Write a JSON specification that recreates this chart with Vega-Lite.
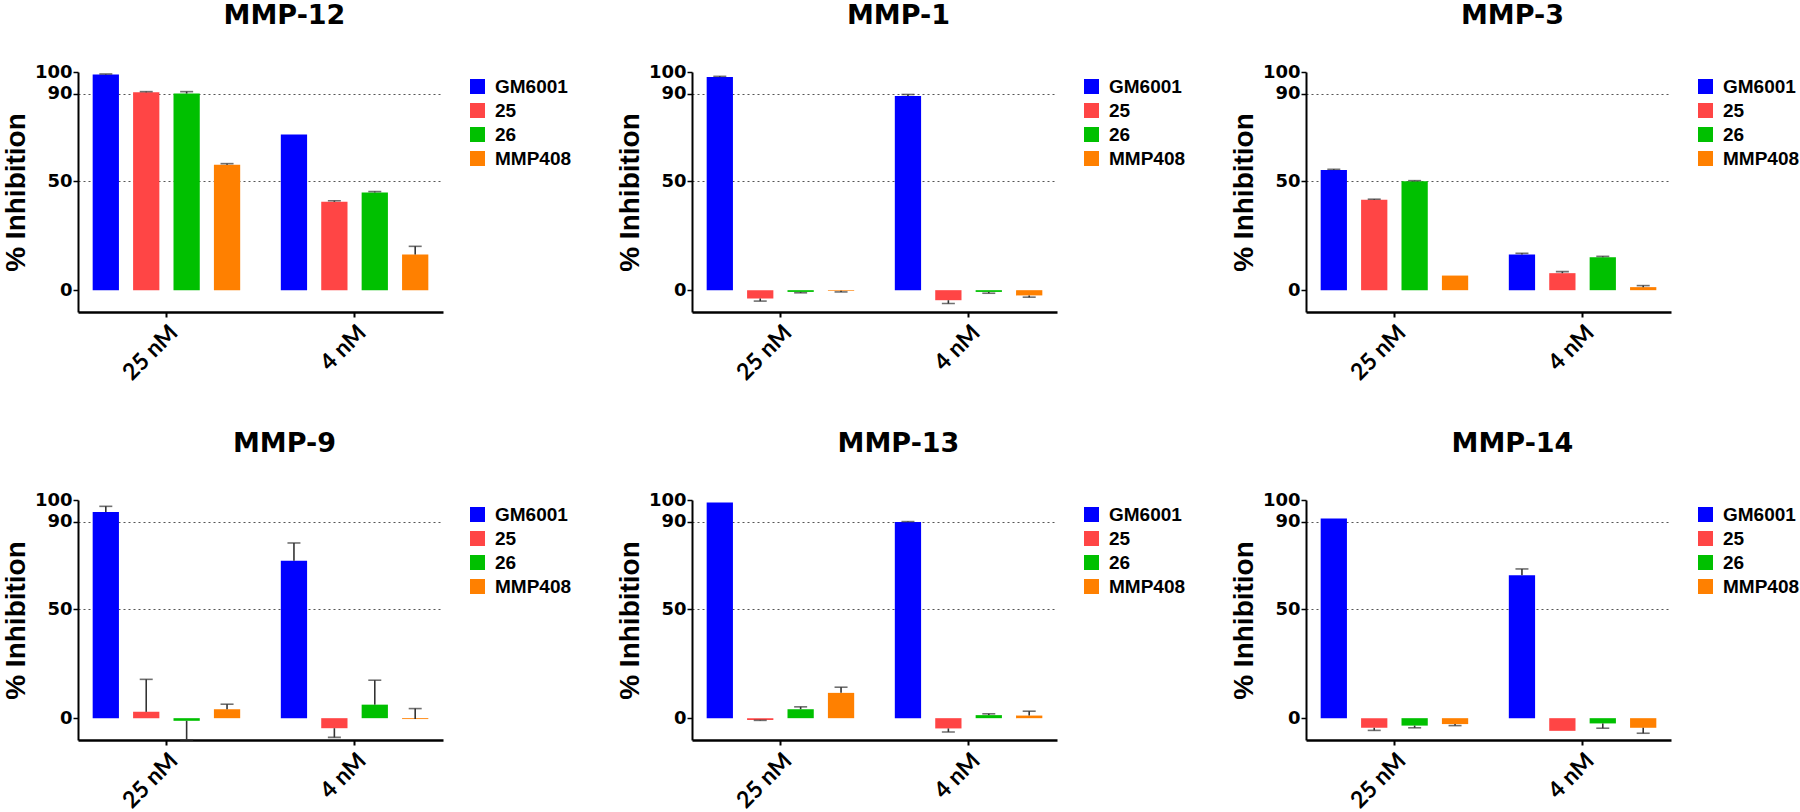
{
  "$schema": "https://vega.github.io/schema/vega-lite/v6.json",
  "padding": {"left": 2, "top": 2, "right": 0, "bottom": 2},
  "background": "white",
  "datasets": {
    "d": [
      {"panel": "MMP-12", "conc": "25 nM", "compound": "GM6001", "value": 98.8, "tip": 99.1},
      {"panel": "MMP-12", "conc": "25 nM", "compound": "25", "value": 90.7, "tip": 91.0},
      {"panel": "MMP-12", "conc": "25 nM", "compound": "26", "value": 90.1, "tip": 91.0},
      {"panel": "MMP-12", "conc": "25 nM", "compound": "MMP408", "value": 57.5, "tip": 58.0},
      {"panel": "MMP-12", "conc": "4 nM", "compound": "GM6001", "value": 71.3, "tip": null},
      {"panel": "MMP-12", "conc": "4 nM", "compound": "25", "value": 40.5, "tip": 41.0},
      {"panel": "MMP-12", "conc": "4 nM", "compound": "26", "value": 44.8, "tip": 45.2},
      {"panel": "MMP-12", "conc": "4 nM", "compound": "MMP408", "value": 16.3, "tip": 20.1},

      {"panel": "MMP-1", "conc": "25 nM", "compound": "GM6001", "value": 97.7, "tip": 98.0},
      {"panel": "MMP-1", "conc": "25 nM", "compound": "25", "value": -3.8, "tip": -5.0},
      {"panel": "MMP-1", "conc": "25 nM", "compound": "26", "value": -0.8, "tip": -1.2},
      {"panel": "MMP-1", "conc": "25 nM", "compound": "MMP408", "value": -0.3, "tip": -0.8},
      {"panel": "MMP-1", "conc": "4 nM", "compound": "GM6001", "value": 89.0, "tip": 89.7},
      {"panel": "MMP-1", "conc": "4 nM", "compound": "25", "value": -4.6, "tip": -6.1},
      {"panel": "MMP-1", "conc": "4 nM", "compound": "26", "value": -0.8, "tip": -1.4},
      {"panel": "MMP-1", "conc": "4 nM", "compound": "MMP408", "value": -2.4, "tip": -3.2},

      {"panel": "MMP-3", "conc": "25 nM", "compound": "GM6001", "value": 55.1, "tip": 55.4},
      {"panel": "MMP-3", "conc": "25 nM", "compound": "25", "value": 41.4, "tip": 41.7},
      {"panel": "MMP-3", "conc": "25 nM", "compound": "26", "value": 49.9, "tip": 50.2},
      {"panel": "MMP-3", "conc": "25 nM", "compound": "MMP408", "value": 6.7, "tip": null},
      {"panel": "MMP-3", "conc": "4 nM", "compound": "GM6001", "value": 16.3, "tip": 16.9},
      {"panel": "MMP-3", "conc": "4 nM", "compound": "25", "value": 7.8, "tip": 8.5},
      {"panel": "MMP-3", "conc": "4 nM", "compound": "26", "value": 15.1, "tip": 15.5},
      {"panel": "MMP-3", "conc": "4 nM", "compound": "MMP408", "value": 1.4, "tip": 2.1},

      {"panel": "MMP-9", "conc": "25 nM", "compound": "GM6001", "value": 94.5, "tip": 97.1},
      {"panel": "MMP-9", "conc": "25 nM", "compound": "25", "value": 2.9, "tip": 17.8},
      {"panel": "MMP-9", "conc": "25 nM", "compound": "26", "value": -1.2, "tip": -10.0},
      {"panel": "MMP-9", "conc": "25 nM", "compound": "MMP408", "value": 4.1, "tip": 6.4},
      {"panel": "MMP-9", "conc": "4 nM", "compound": "GM6001", "value": 72.1, "tip": 80.3},
      {"panel": "MMP-9", "conc": "4 nM", "compound": "25", "value": -4.6, "tip": -8.8},
      {"panel": "MMP-9", "conc": "4 nM", "compound": "26", "value": 6.2, "tip": 17.4},
      {"panel": "MMP-9", "conc": "4 nM", "compound": "MMP408", "value": -0.4, "tip": 4.4},

      {"panel": "MMP-13", "conc": "25 nM", "compound": "GM6001", "value": 98.8, "tip": null},
      {"panel": "MMP-13", "conc": "25 nM", "compound": "25", "value": -0.8, "tip": -1.0},
      {"panel": "MMP-13", "conc": "25 nM", "compound": "26", "value": 4.1, "tip": 5.2},
      {"panel": "MMP-13", "conc": "25 nM", "compound": "MMP408", "value": 11.6, "tip": 14.2},
      {"panel": "MMP-13", "conc": "4 nM", "compound": "GM6001", "value": 89.9, "tip": 90.1},
      {"panel": "MMP-13", "conc": "4 nM", "compound": "25", "value": -4.7, "tip": -6.3},
      {"panel": "MMP-13", "conc": "4 nM", "compound": "26", "value": 1.4, "tip": 2.0},
      {"panel": "MMP-13", "conc": "4 nM", "compound": "MMP408", "value": 1.2, "tip": 3.2},

      {"panel": "MMP-14", "conc": "25 nM", "compound": "GM6001", "value": 91.5, "tip": null},
      {"panel": "MMP-14", "conc": "25 nM", "compound": "25", "value": -4.4, "tip": -5.6},
      {"panel": "MMP-14", "conc": "25 nM", "compound": "26", "value": -3.4, "tip": -4.4},
      {"panel": "MMP-14", "conc": "25 nM", "compound": "MMP408", "value": -2.7, "tip": -3.4},
      {"panel": "MMP-14", "conc": "4 nM", "compound": "GM6001", "value": 65.5, "tip": 68.4},
      {"panel": "MMP-14", "conc": "4 nM", "compound": "25", "value": -5.8, "tip": null},
      {"panel": "MMP-14", "conc": "4 nM", "compound": "26", "value": -2.4, "tip": -4.6},
      {"panel": "MMP-14", "conc": "4 nM", "compound": "MMP408", "value": -4.4, "tip": -6.9}
    ]
  },
  "data": {"name": "d"},
  "columns": 3,
  "bounds": "flush",
  "spacing": {"row": 188, "column": 249},
  "resolve": {
    "scale": {"x": "independent", "xOffset": "independent", "y": "independent", "color": "independent"},
    "axis": {"x": "independent", "y": "independent"},
    "legend": {"color": "independent"}
  },
  "concat": [
    {
      "title": {"text": "MMP-12", "dx": 24},
      "width": 365, "height": 240,
      "transform": [{"filter": "datum.panel == 'MMP-12'"}],
      "encoding": {
        "x": {"field": "conc", "type": "nominal", "sort": ["25 nM", "4 nM"], "scale": {"paddingInner": 0.216, "paddingOuter": 0.078}, "axis": {"title": null}},
        "xOffset": {"field": "compound", "type": "nominal", "sort": ["GM6001", "25", "26", "MMP408"], "scale": {"paddingInner": 0.35, "paddingOuter": 0}}
      },
      "layer": [
        {"mark": {"type": "bar"}, "encoding": {"y": {"field": "value", "type": "quantitative", "scale": {"domain": [-10, 100], "nice": false}, "axis": {"title": "% Inhibition", "values": [0, 50, 90, 100], "grid": true, "gridOpacity": {"condition": {"test": "datum.value == 50 || datum.value == 90", "value": 1}, "value": 0}}}, "color": {"field": "compound", "type": "nominal", "sort": ["GM6001", "25", "26", "MMP408"], "scale": {"domain": ["GM6001", "25", "26", "MMP408"], "range": ["#0000FF", "#FF4545", "#00C000", "#FF8000"]}, "legend": {"title": null}}}},
        {"mark": {"type": "rule", "color": "#333333", "strokeWidth": 1.6}, "encoding": {"y": {"field": "value", "type": "quantitative"}, "y2": {"field": "tip"}}},
        {"mark": {"type": "tick", "color": "#333333", "thickness": 1.6, "size": 13}, "encoding": {"y": {"field": "tip", "type": "quantitative"}}},
        {"mark": {"type": "rule", "color": "black", "strokeWidth": 2}, "encoding": {"y": {"datum": 0, "type": "quantitative"}}}
      ]
    },
    {
      "title": {"text": "MMP-1", "dx": 24},
      "width": 365, "height": 240,
      "transform": [{"filter": "datum.panel == 'MMP-1'"}],
      "encoding": {
        "x": {"field": "conc", "type": "nominal", "sort": ["25 nM", "4 nM"], "scale": {"paddingInner": 0.216, "paddingOuter": 0.078}, "axis": {"title": null}},
        "xOffset": {"field": "compound", "type": "nominal", "sort": ["GM6001", "25", "26", "MMP408"], "scale": {"paddingInner": 0.35, "paddingOuter": 0}}
      },
      "layer": [
        {"mark": {"type": "bar"}, "encoding": {"y": {"field": "value", "type": "quantitative", "scale": {"domain": [-10, 100], "nice": false}, "axis": {"title": "% Inhibition", "values": [0, 50, 90, 100], "grid": true, "gridOpacity": {"condition": {"test": "datum.value == 50 || datum.value == 90", "value": 1}, "value": 0}}}, "color": {"field": "compound", "type": "nominal", "sort": ["GM6001", "25", "26", "MMP408"], "scale": {"domain": ["GM6001", "25", "26", "MMP408"], "range": ["#0000FF", "#FF4545", "#00C000", "#FF8000"]}, "legend": {"title": null}}}},
        {"mark": {"type": "rule", "color": "#333333", "strokeWidth": 1.6}, "encoding": {"y": {"field": "value", "type": "quantitative"}, "y2": {"field": "tip"}}},
        {"mark": {"type": "tick", "color": "#333333", "thickness": 1.6, "size": 13}, "encoding": {"y": {"field": "tip", "type": "quantitative"}}},
        {"mark": {"type": "rule", "color": "black", "strokeWidth": 2}, "encoding": {"y": {"datum": 0, "type": "quantitative"}}}
      ]
    },
    {
      "title": {"text": "MMP-3", "dx": 24},
      "width": 365, "height": 240,
      "transform": [{"filter": "datum.panel == 'MMP-3'"}],
      "encoding": {
        "x": {"field": "conc", "type": "nominal", "sort": ["25 nM", "4 nM"], "scale": {"paddingInner": 0.216, "paddingOuter": 0.078}, "axis": {"title": null}},
        "xOffset": {"field": "compound", "type": "nominal", "sort": ["GM6001", "25", "26", "MMP408"], "scale": {"paddingInner": 0.35, "paddingOuter": 0}}
      },
      "layer": [
        {"mark": {"type": "bar"}, "encoding": {"y": {"field": "value", "type": "quantitative", "scale": {"domain": [-10, 100], "nice": false}, "axis": {"title": "% Inhibition", "values": [0, 50, 90, 100], "grid": true, "gridOpacity": {"condition": {"test": "datum.value == 50 || datum.value == 90", "value": 1}, "value": 0}}}, "color": {"field": "compound", "type": "nominal", "sort": ["GM6001", "25", "26", "MMP408"], "scale": {"domain": ["GM6001", "25", "26", "MMP408"], "range": ["#0000FF", "#FF4545", "#00C000", "#FF8000"]}, "legend": {"title": null}}}},
        {"mark": {"type": "rule", "color": "#333333", "strokeWidth": 1.6}, "encoding": {"y": {"field": "value", "type": "quantitative"}, "y2": {"field": "tip"}}},
        {"mark": {"type": "tick", "color": "#333333", "thickness": 1.6, "size": 13}, "encoding": {"y": {"field": "tip", "type": "quantitative"}}},
        {"mark": {"type": "rule", "color": "black", "strokeWidth": 2}, "encoding": {"y": {"datum": 0, "type": "quantitative"}}}
      ]
    },
    {
      "title": {"text": "MMP-9", "dx": 24},
      "width": 365, "height": 240,
      "transform": [{"filter": "datum.panel == 'MMP-9'"}],
      "encoding": {
        "x": {"field": "conc", "type": "nominal", "sort": ["25 nM", "4 nM"], "scale": {"paddingInner": 0.216, "paddingOuter": 0.078}, "axis": {"title": null}},
        "xOffset": {"field": "compound", "type": "nominal", "sort": ["GM6001", "25", "26", "MMP408"], "scale": {"paddingInner": 0.35, "paddingOuter": 0}}
      },
      "layer": [
        {"mark": {"type": "bar"}, "encoding": {"y": {"field": "value", "type": "quantitative", "scale": {"domain": [-10, 100], "nice": false}, "axis": {"title": "% Inhibition", "values": [0, 50, 90, 100], "grid": true, "gridOpacity": {"condition": {"test": "datum.value == 50 || datum.value == 90", "value": 1}, "value": 0}}}, "color": {"field": "compound", "type": "nominal", "sort": ["GM6001", "25", "26", "MMP408"], "scale": {"domain": ["GM6001", "25", "26", "MMP408"], "range": ["#0000FF", "#FF4545", "#00C000", "#FF8000"]}, "legend": {"title": null}}}},
        {"mark": {"type": "rule", "color": "#333333", "strokeWidth": 1.6}, "encoding": {"y": {"field": "value", "type": "quantitative"}, "y2": {"field": "tip"}}},
        {"mark": {"type": "tick", "color": "#333333", "thickness": 1.6, "size": 13}, "encoding": {"y": {"field": "tip", "type": "quantitative"}}},
        {"mark": {"type": "rule", "color": "black", "strokeWidth": 2}, "encoding": {"y": {"datum": 0, "type": "quantitative"}}}
      ]
    },
    {
      "title": {"text": "MMP-13", "dx": 24},
      "width": 365, "height": 240,
      "transform": [{"filter": "datum.panel == 'MMP-13'"}],
      "encoding": {
        "x": {"field": "conc", "type": "nominal", "sort": ["25 nM", "4 nM"], "scale": {"paddingInner": 0.216, "paddingOuter": 0.078}, "axis": {"title": null}},
        "xOffset": {"field": "compound", "type": "nominal", "sort": ["GM6001", "25", "26", "MMP408"], "scale": {"paddingInner": 0.35, "paddingOuter": 0}}
      },
      "layer": [
        {"mark": {"type": "bar"}, "encoding": {"y": {"field": "value", "type": "quantitative", "scale": {"domain": [-10, 100], "nice": false}, "axis": {"title": "% Inhibition", "values": [0, 50, 90, 100], "grid": true, "gridOpacity": {"condition": {"test": "datum.value == 50 || datum.value == 90", "value": 1}, "value": 0}}}, "color": {"field": "compound", "type": "nominal", "sort": ["GM6001", "25", "26", "MMP408"], "scale": {"domain": ["GM6001", "25", "26", "MMP408"], "range": ["#0000FF", "#FF4545", "#00C000", "#FF8000"]}, "legend": {"title": null}}}},
        {"mark": {"type": "rule", "color": "#333333", "strokeWidth": 1.6}, "encoding": {"y": {"field": "value", "type": "quantitative"}, "y2": {"field": "tip"}}},
        {"mark": {"type": "tick", "color": "#333333", "thickness": 1.6, "size": 13}, "encoding": {"y": {"field": "tip", "type": "quantitative"}}},
        {"mark": {"type": "rule", "color": "black", "strokeWidth": 2}, "encoding": {"y": {"datum": 0, "type": "quantitative"}}}
      ]
    },
    {
      "title": {"text": "MMP-14", "dx": 24},
      "width": 365, "height": 240,
      "transform": [{"filter": "datum.panel == 'MMP-14'"}],
      "encoding": {
        "x": {"field": "conc", "type": "nominal", "sort": ["25 nM", "4 nM"], "scale": {"paddingInner": 0.216, "paddingOuter": 0.078}, "axis": {"title": null}},
        "xOffset": {"field": "compound", "type": "nominal", "sort": ["GM6001", "25", "26", "MMP408"], "scale": {"paddingInner": 0.35, "paddingOuter": 0}}
      },
      "layer": [
        {"mark": {"type": "bar"}, "encoding": {"y": {"field": "value", "type": "quantitative", "scale": {"domain": [-10, 100], "nice": false}, "axis": {"title": "% Inhibition", "values": [0, 50, 90, 100], "grid": true, "gridOpacity": {"condition": {"test": "datum.value == 50 || datum.value == 90", "value": 1}, "value": 0}}}, "color": {"field": "compound", "type": "nominal", "sort": ["GM6001", "25", "26", "MMP408"], "scale": {"domain": ["GM6001", "25", "26", "MMP408"], "range": ["#0000FF", "#FF4545", "#00C000", "#FF8000"]}, "legend": {"title": null}}}},
        {"mark": {"type": "rule", "color": "#333333", "strokeWidth": 1.6}, "encoding": {"y": {"field": "value", "type": "quantitative"}, "y2": {"field": "tip"}}},
        {"mark": {"type": "tick", "color": "#333333", "thickness": 1.6, "size": 13}, "encoding": {"y": {"field": "tip", "type": "quantitative"}}},
        {"mark": {"type": "rule", "color": "black", "strokeWidth": 2}, "encoding": {"y": {"datum": 0, "type": "quantitative"}}}
      ]
    }
  ],
  "config": {
    "view": {"stroke": null},
    "title": {"font": "DejaVu Sans", "fontSize": 27, "fontWeight": "bold", "color": "black", "offset": 33, "anchor": "middle"},
    "axisX": {
      "domainColor": "black", "domainWidth": 2.5, "tickColor": "black", "tickWidth": 2, "tickSize": 5,
      "labelAngle": -45, "labelFont": "Lato", "labelFontSize": 23, "labelFontWeight": "bold", "labelColor": "black", "labelPadding": 4,
      "grid": false
    },
    "axisY": {
      "domainColor": "black", "domainWidth": 2, "tickColor": "black", "tickWidth": 1.5, "tickSize": 5,
      "labelOverlap": false, "labelBound": false,
      "labelFont": "DejaVu Sans", "labelFontSize": 18, "labelFontWeight": "bold", "labelColor": "black", "labelPadding": 1,
      "titleFont": "Liberation Sans", "titleFontSize": 28, "titleFontWeight": "bold", "titleColor": "black", "titlePadding": 4,
      "gridColor": "#555555", "gridDash": [2, 3], "gridWidth": 1
    },
    "legend": {
      "orient": "right", "offset": 20, "padding": 5,
      "symbolType": "square", "symbolSize": 225, "symbolStrokeWidth": 0, "symbolOpacity": 1,
      "labelFont": "Liberation Sans", "labelFontSize": 19, "labelFontWeight": "bold", "labelColor": "black", "labelOffset": 8,
      "rowPadding": 4
    }
  }
}
